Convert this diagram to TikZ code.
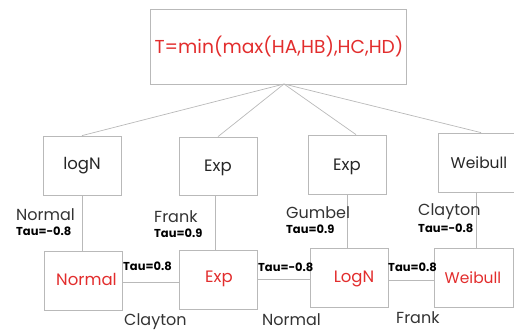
\documentclass[tikz,border=0pt]{standalone}
\usepackage{fontspec}
\setmainfont{Poppins}
\usetikzlibrary{calc}
\definecolor{tred}{RGB}{226,45,45}
\definecolor{lgray}{RGB}{185,185,185}
\begin{document}
\begin{tikzpicture}[x=1pt,y=-1pt,
  box/.style={draw=lgray,line width=0.8pt,inner sep=0pt},
  conn/.style={draw=lgray,line width=0.7pt},
  blk/.style={font=\fontsize{16.5}{16.5}\selectfont,text=black!85,inner sep=0pt},
  rtxt/.style={font=\fontsize{16.5}{16.5}\selectfont,text=tred,inner sep=0pt},
  tau/.style={font=\bfseries\fontsize{11.5}{11.5}\selectfont,inner sep=0pt,anchor=west},
  lab/.style={font=\fontsize{16}{16}\selectfont,text=black!80,inner sep=0pt,anchor=west}]
\useasboundingbox (0,0) rectangle (514,333);
% top
\node[box,minimum width=256pt,minimum height=75pt] (top) at (278,46.5) {};
\node[rtxt,font=\fontsize{18.7}{18.7}\selectfont] (toptxt) at (279,47) {T=min(max(HA,HB),HC,HD)};
\coordinate (hub) at (284,84);
% middle row
\node[box,minimum width=78pt,minimum height=59pt] (m1) at (82,165.5) {};
\node[blk] (m1t) at (82,166) {logN};
\node[box,minimum width=78pt,minimum height=58pt] (m2) at (218,166) {};
\node[blk] (m2t) at (218,168) {Exp};
\node[box,minimum width=78pt,minimum height=59pt] (m3) at (347,164.5) {};
\node[blk] (m3t) at (347,167) {Exp};
\node[box,minimum width=76pt,minimum height=59pt] (m4) at (476,162.5) {};
\node[blk,font=\fontsize{15.5}{15.5}\selectfont] (m4t) at (479,163) {Weibull};
% bottom row
\node[box,minimum width=78pt,minimum height=59pt] (b1) at (83,280.5) {};
\node[rtxt] (b1t) at (86.5,279) {Normal};
\node[box,minimum width=78pt,minimum height=59pt] (b2) at (218,279.5) {};
\node[rtxt] (b2t) at (219,279) {Exp};
\node[box,minimum width=78pt,minimum height=59pt] (b3) at (349,277.5) {};
\node[rtxt] (b3t) at (354,279) {LogN};
\node[box,minimum width=79pt,minimum height=59pt] (b4) at (473.5,277.5) {};
\node[rtxt,font=\fontsize{15.5}{15.5}\selectfont] (b4t) at (473,278) {Weibull};
% connectors
\draw[conn] (hub) -- (m1.north);
\draw[conn] (hub) -- (m2.north);
\draw[conn] (hub) -- ($(m3.north)+(9,0)$);
\draw[conn] (hub) -- ($(m4.north)+(5,0)$);
\draw[conn] (m1.south) -- (m1.south |- b1.north);
\draw[conn] ($(m2.south)+(-3,0)$) -- ($(m2.south |- b2.north)+(-3,0)$);
\draw[conn] (m3.south) -- (m3.south |- b3.north);
\draw[conn] (m4.south) -- (m4.south |- b4.north);
\draw[conn] ($(b1.east)+(0,1.5)$) -- ($(b1.east -| b2.west)+(0,1.5)$);
\draw[conn] (b2.east) -- (b2.east -| b3.west);
\draw[conn] ($(b3.east)+(0,2.5)$) -- ($(b3.east -| b4.west)+(0,2.5)$);
% labels
\node[lab] (l1) at (16,215) {Normal};
\node[tau] (t1) at (16,231) {Tau=-0.8};
\node[lab] (l2) at (154,217) {Frank};
\node[tau] (t2) at (154,233) {Tau=0.9};
\node[lab] (l3) at (286,213) {Gumbel};
\node[tau] (t3) at (286,229) {Tau=0.9};
\node[lab] (l4) at (418,212) {Clayton};
\node[tau] (t4) at (418,228) {Tau=-0.8};
\node[tau] (t5) at (123,266) {Tau=0.8};
\node[lab] (l5) at (124,322) {Clayton};
\node[tau] (t6) at (258,267) {Tau=-0.8};
\node[lab] (l6) at (262,320) {Normal};
\node[tau] (t7) at (388,267) {Tau=0.8};
\node[lab] (l7) at (396,318) {Frank};
\end{tikzpicture}
\end{document}
